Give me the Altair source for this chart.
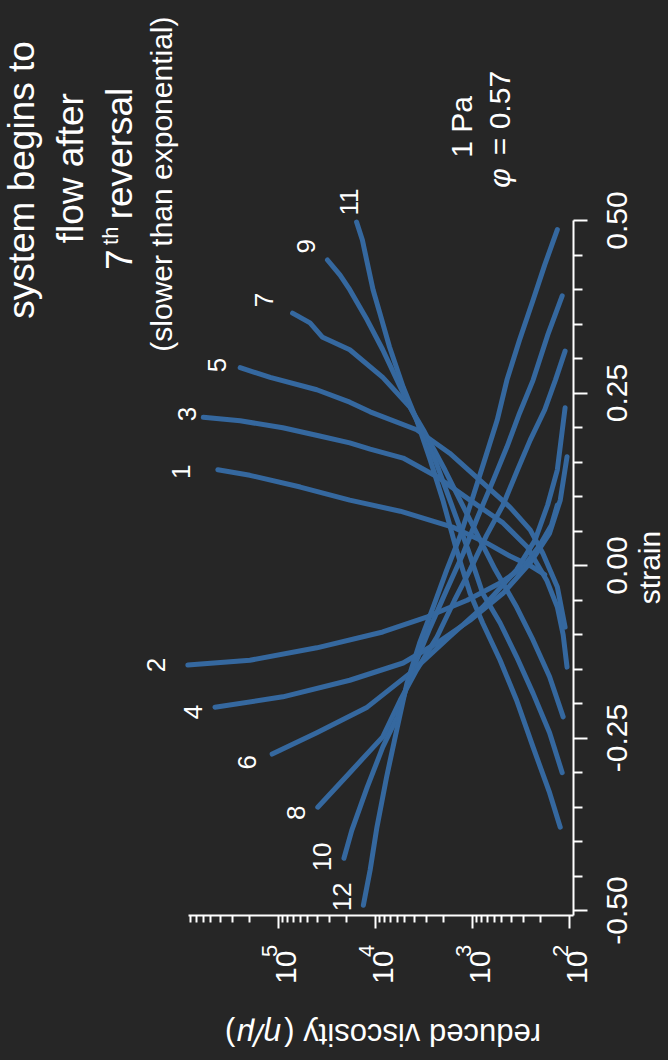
import altair as alt
import pandas as pd

BG = "#262626"
BLUE = "#35689f"
WHITE = "#ffffff"
FONT = "Liberation Sans"

# ---- curves: log10(reduced viscosity) and strain, from high-viscosity end to low end
c1_logv = [5.62, 5.29, 4.77, 4.26, 3.74, 3.20, 2.85, 2.61, 2.40, 2.25]
c1_strain = [0.138, 0.130, 0.113, 0.094, 0.078, 0.055, 0.032, 0.013, -0.001, -0.014]
c3_logv = [5.77, 5.39, 4.95, 4.57, 4.26, 4.05, 3.71, 3.36, 3.02, 2.68, 2.43, 2.23, 2.12, 2.06, 2.02]
c3_strain = [0.214, 0.209, 0.199, 0.187, 0.177, 0.168, 0.155, 0.128, 0.094, 0.061, 0.026,
             -0.022, -0.061, -0.101, -0.148]
c5_logv = [5.39, 5.08, 4.60, 4.26, 4.05, 3.57, 3.23, 2.92, 2.61, 2.40, 2.27, 2.12, 2.04]
c5_strain = [0.286, 0.272, 0.254, 0.236, 0.222, 0.196, 0.162, 0.123, 0.084, 0.051, 0.017, -0.032, -0.090]
c7_logv = [4.85, 4.67, 4.54, 4.26, 3.92, 3.64, 3.49, 3.28, 3.02, 2.76, 2.54, 2.37, 2.20, 2.06]
c7_strain = [0.365, 0.351, 0.330, 0.312, 0.272, 0.229, 0.193, 0.138, 0.065, -0.007, -0.061,
             -0.109, -0.162, -0.220]
c9_logv = [4.49, 4.36, 4.26, 4.08, 3.92, 3.74, 3.57, 3.38, 3.21, 3.04, 2.89, 2.71, 2.54, 2.37, 2.20, 2.07]
c9_strain = [0.442, 0.420, 0.399, 0.355, 0.312, 0.258, 0.210, 0.152, 0.087, 0.022, -0.041,
             -0.084, -0.133, -0.186, -0.243, -0.301]
c11_logv = [4.19, 4.13, 4.08, 4.02, 3.95, 3.85, 3.71, 3.57, 3.43, 3.30, 3.16, 3.02, 2.89,
            2.71, 2.54, 2.37, 2.20, 2.09]
c11_strain = [0.497, 0.471, 0.438, 0.399, 0.365, 0.316, 0.258, 0.210, 0.152, 0.094, 0.022,
              -0.041, -0.084, -0.138, -0.196, -0.264, -0.330, -0.380]
c2_logv = [5.93, 5.29, 4.60, 3.92, 3.46, 3.05, 2.71, 2.47, 2.30, 2.18, 2.12]
c2_strain = [-0.145, -0.138, -0.120, -0.097, -0.075, -0.051, -0.026, -0.003, 0.029, 0.058, 0.087]
c4_logv = [5.65, 4.95, 4.26, 3.71, 3.36, 3.02, 2.68, 2.40, 2.20, 2.09, 2.02]
c4_strain = [-0.206, -0.191, -0.167, -0.142, -0.113, -0.080, -0.041, 0.003, 0.046, 0.094, 0.157]
c6_logv = [5.06, 4.60, 4.08, 3.64, 3.23, 2.89, 2.54, 2.35, 2.22, 2.12, 2.04]
c6_strain = [-0.274, -0.243, -0.206, -0.157, -0.104, -0.061, -0.007, 0.036, 0.087, 0.138, 0.228]
c8_logv = [4.59, 4.26, 3.92, 3.74, 3.57, 3.36, 3.18, 3.02, 2.85, 2.68, 2.53, 2.40, 2.25, 2.14, 2.04]
c8_strain = [-0.351, -0.301, -0.249, -0.196, -0.152, -0.104, -0.051, -0.007, 0.043, 0.087,
             0.138, 0.181, 0.225, 0.268, 0.310]
c10_logv = [4.32, 4.24, 4.08, 3.92, 3.77, 3.64, 3.43, 3.26, 3.09, 2.94, 2.78, 2.64, 2.51,
            2.37, 2.22, 2.07]
c10_strain = [-0.425, -0.385, -0.322, -0.264, -0.220, -0.162, -0.090, -0.036, 0.017, 0.070,
              0.123, 0.171, 0.220, 0.268, 0.333, 0.390]
c12_logv = [4.12, 4.05, 3.98, 3.88, 3.77, 3.67, 3.54, 3.40, 3.26, 3.12, 2.99, 2.87, 2.74,
            2.64, 2.51, 2.37, 2.25, 2.12]
c12_strain = [-0.493, -0.442, -0.380, -0.307, -0.235, -0.171, -0.113, -0.061, -0.007, 0.043,
              0.099, 0.152, 0.210, 0.268, 0.326, 0.384, 0.435, 0.486]

curves = {
    1: (c1_logv, c1_strain), 2: (c2_logv, c2_strain), 3: (c3_logv, c3_strain),
    4: (c4_logv, c4_strain), 5: (c5_logv, c5_strain), 6: (c6_logv, c6_strain),
    7: (c7_logv, c7_strain), 8: (c8_logv, c8_strain), 9: (c9_logv, c9_strain),
    10: (c10_logv, c10_strain), 11: (c11_logv, c11_strain), 12: (c12_logv, c12_strain),
}

# ---- curve number labels
label_text = ["1", "3", "5", "7", "9", "11", "2", "4", "6", "8", "10", "12"]
label_logv = [5.99, 5.93, 5.62, 5.13, 4.70, 4.26, 6.25, 5.87, 5.31, 4.80, 4.54, 4.33]
label_strain = [0.135, 0.219, 0.290, 0.384, 0.462, 0.526,
                -0.145, -0.213, -0.286, -0.359, -0.423, -0.481]

# ---- axis ticks
x_ticks = [100, 200, 300, 400, 500, 600, 700, 800, 900,
           1000, 2000, 3000, 4000, 5000, 6000, 7000, 8000, 9000,
           10000, 20000, 30000, 40000, 50000, 60000, 70000, 80000, 90000,
           100000, 200000, 300000, 400000, 500000, 600000, 700000, 800000]
y_ticks = [-0.5, -0.45, -0.4, -0.35, -0.3, -0.25, -0.2, -0.15, -0.1, -0.05, 0.0,
           0.05, 0.1, 0.15, 0.2, 0.25, 0.3, 0.35, 0.4, 0.45, 0.5]
# exponents of the decade labels (10^k), drawn as superscripts
exp_text = ["2", "3", "4", "5"]
exp_logv = [2.01, 3.01, 4.01, 5.01]
exp_strain = [-0.568, -0.568, -0.568, -0.568]

rows = []
for cid, (lv, st) in curves.items():
    for i, (a, b) in enumerate(zip(lv, st)):
        rows.append({"curve": cid, "order": i, "visc": 10 ** a, "strain": b})
df = pd.DataFrame(rows)

df_lab = pd.DataFrame({"visc": [10 ** v for v in label_logv],
                       "strain": label_strain, "t": label_text})

xscale = alt.Scale(type="log", domain=[90.9, 8.47e5], reverse=True, nice=False)
yscale = alt.Scale(domain=[-0.5072, 0.5], nice=False, zero=False)

x_label_expr = "indexof([100,1000,10000,100000], datum.value) >= 0 ? '10' : ''"
y_label_expr = ("abs(datum.value - 0.5) < 1e-6 ? '0.50' : abs(datum.value - 0.25) < 1e-6 ? '0.25' : "
                "abs(datum.value) < 1e-6 ? '0.00' : abs(datum.value + 0.25) < 1e-6 ? '-0.25' : "
                "abs(datum.value + 0.5) < 1e-6 ? '-0.50' : ''")

x_axis = alt.Axis(
    values=x_ticks, labelExpr=x_label_expr, orient="bottom", grid=False,
    domainColor=WHITE, domainWidth=2, tickColor=WHITE, tickWidth=2,
    tickSize={"condition": {"test": "indexof([100,1000,10000,100000], datum.value) >= 0", "value": 13}, "value": 7},
    labelColor=WHITE, labelFont=FONT, labelFontSize=30, labelAngle=270,
    labelAlign="right", labelBaseline="alphabetic", labelPadding=22, labelOffset=18,
    labelOverlap=False, labelFlush=False, title=None,
)
y_axis = alt.Axis(
    values=y_ticks, labelExpr=y_label_expr, orient="right", grid=False,
    domainColor=WHITE, domainWidth=2, tickColor=WHITE, tickWidth=2,
    tickSize={"condition": {"test": "abs(datum.value*4 - round(datum.value*4)) < 1e-6", "value": 14}, "value": 9},
    labelColor=WHITE, labelFont=FONT, labelFontSize=30, labelAngle=270,
    labelAlign="center", labelBaseline="top", labelPadding=15,
    labelOverlap=False, labelFlush=False,
    title="strain", titleColor=WHITE, titleFont=FONT, titleFontSize=30,
    titleFontWeight="normal", titleAngle=270, titleAlign="center", titleBaseline="top",
    titleX=62, titleY=347,
)

X = alt.X("visc:Q", scale=xscale, axis=x_axis)
Y = alt.Y("strain:Q", scale=yscale, axis=y_axis)

lines = alt.Chart(df).mark_line(color=BLUE, strokeWidth=5, strokeCap="round",
                                strokeJoin="round").encode(
    x=X, y=Y, detail="curve:N", order="order:Q",
)


def text_layer(texts, logv, strain, size, align="center", baseline="alphabetic",
               style="normal", angle=270):
    d = pd.DataFrame({"visc": [10 ** v for v in logv], "strain": strain, "t": texts})
    return alt.Chart(d).mark_text(
        angle=angle, color=WHITE, font=FONT, fontSize=size, align=align,
        baseline=baseline, fontStyle=style,
    ).encode(x=X, y=Y, text="t:N")


labels = alt.Chart(df_lab).mark_text(
    angle=270, color=WHITE, font=FONT, fontSize=26, align="center", baseline="middle"
).encode(x=X, y=Y, text="t:N")

# annotation texts
title_lines = ["system begins to", "flow after"]
title_logv = [7.515, 7.010]
title_strain = [0.558, 0.575]
sub_line = ["(slower than exponential)"]
sub_logv = [6.093]
sub_strain = [0.552]
seven = ["7"]
seven_logv = [6.505]
seven_strain = [0.4275]
th = ["th"]
th_logv = [6.649]
th_strain = [0.4638]
reversal = ["reversal"]
reversal_logv = [6.505]
reversal_strain = [0.501]
pa = ["1 Pa", "= 0.57"]
pa_logv = [3.0, 2.608]
pa_strain = [0.635, 0.655]
phi = ["\u03c6"]
phi_logv = [2.608]
phi_strain = [0.561]
# x-axis title (upside down, as in the rotated figure)
xt_plain = ["reduced viscosity (", ")"]
xt_plain_logv = [2.289, 5.44]
xt_plain_strain = [-0.665, -0.665]
xt_ital = ["\u03b7/\u03bc"]
xt_ital_logv = [4.97]
xt_ital_strain = [-0.665]

chart = alt.layer(
    lines,
    labels,
    text_layer(exp_text, exp_logv, exp_strain, 22, align="left"),
    text_layer(xt_plain, xt_plain_logv, xt_plain_strain, 31, align="left", angle=180),
    text_layer(xt_ital, xt_ital_logv, xt_ital_strain, 32, align="left", angle=180, style="italic"),
    text_layer(title_lines, title_logv, title_strain, 37),
    text_layer(sub_line, sub_logv, sub_strain, 30),
    text_layer(seven, seven_logv, seven_strain, 37, align="left"),
    text_layer(th, th_logv, th_strain, 22, align="left"),
    text_layer(reversal, reversal_logv, reversal_strain, 37, align="left"),
    text_layer(pa, pa_logv, pa_strain, 30),
    text_layer(phi, phi_logv, phi_strain, 30, style="italic"),
).properties(
    width=385, height=695,
    background=BG,
    padding={"left": 188, "top": 220, "right": 95, "bottom": 145},
    autosize=alt.AutoSizeParams(type="none"),
).configure_view(stroke=None)

chart.save("out.html", embed_options={"renderer": "svg", "actions": False})
